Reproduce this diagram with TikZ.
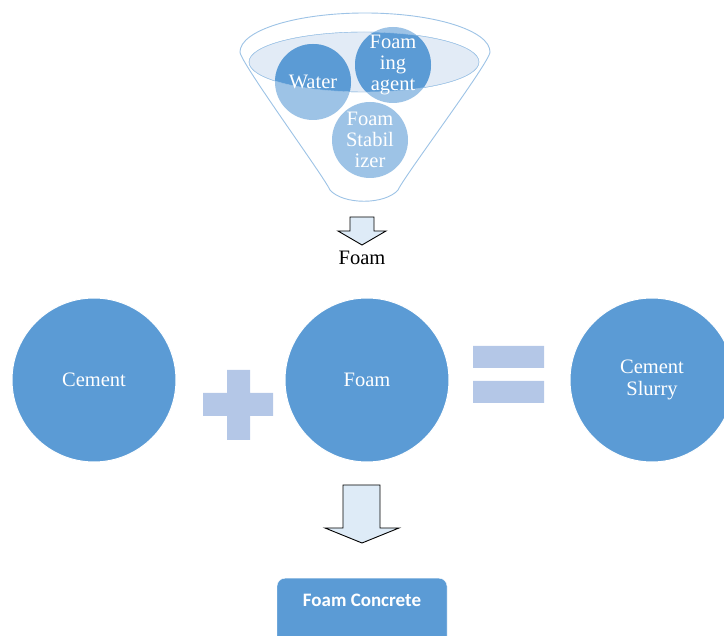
\documentclass[tikz,border=0pt]{standalone}
\usepackage{fontspec}
\setmainfont{Liberation Serif}
\newfontfamily\boxfont{Carlito}
\definecolor{midblue}{HTML}{5B9BD5}
\definecolor{lightblue}{HTML}{9DC3E6}
\definecolor{paleblue}{HTML}{E2EBF6}
\definecolor{signblue}{HTML}{B4C7E7}
\definecolor{arrowfill}{HTML}{DEEBF7}
\begin{document}
\begin{tikzpicture}[x=1pt, y=-1pt,
  bigdisc/.style={circle, fill=midblue, draw=white, line width=1pt, minimum size=164pt, text=white, align=center, font=\fontsize{20.5}{22}\selectfont},
  smalldisc/.style={circle, minimum size=76pt, inner sep=0pt, text=white, align=center, font=\fontsize{20.5}{21}\selectfont},
  sign/.style={fill=signblue},
  blockarrow/.style={draw=black, fill=arrowfill, line width=0.9pt, line join=miter},
  resultbox/.style={fill=midblue, draw=white, rounded corners=8pt, minimum width=170pt, inner ysep=8pt, text height=20pt, text depth=45pt, text=white, font=\boxfont\bfseries\fontsize{19}{21}\selectfont}]
\useasboundingbox (0,0) rectangle (724,636);
% funnel
\draw[lightblue, line width=0.9pt, fill=white] (240,52) arc[start angle=180, end angle=360, x radius=125, y radius=39]
  .. controls (490,62) and (405,175) .. (398,190)
  .. controls (385,205) and (343,205) .. (330,190)
  .. controls (323,175) and (240,62) .. (240,52) -- cycle;
\draw[lightblue, fill=paleblue] (364,62) ellipse[x radius=115, y radius=30];
\fill[lightblue] (313,82) circle (38) (393,65) circle (38) (370,140) circle (38);
\begin{scope}
  \clip (364,62) ellipse[x radius=115, y radius=30];
  \fill[midblue] (313,82) circle (38) (393,65) circle (38);
\end{scope}
\draw[lightblue] (364,62) ellipse[x radius=115, y radius=30];
% nodes
\node[smalldisc] (water) at (313,82) {Water};
\node[smalldisc] (agent) at (393,65) {Foam\\ing\\agent};
\node[smalldisc] (stabilizer) at (370,140) {Foam\\Stabil\\izer};
\node[font=\fontsize{20.5}{22}\selectfont] (foamlabel) at (362,258) {Foam};
\node[bigdisc] (cement) at (94,380) {Cement};
\node[bigdisc] (foam) at (367,380) {Foam};
\node[bigdisc] (slurry) at (652,380) {Cement\\Slurry};
\node[resultbox, anchor=north] (concrete) at (362,578) {Foam Concrete};
% signs
\fill[sign] (227,370) rectangle (250,440) (203,393) rectangle (273,416);
\fill[sign] (473,346) rectangle (544,368) (473,381) rectangle (544,403);
% arrows
\draw[blockarrow] (350,217) -- (374,217) -- (374,231) -- (386,231) -- (362,245) -- (338,231) -- (350,231) -- cycle;
\draw[blockarrow] (343,485) -- (380,485) -- (380,528) -- (399,528) -- (362,543) -- (325,528) -- (343,528) -- cycle;
\end{tikzpicture}
\end{document}
